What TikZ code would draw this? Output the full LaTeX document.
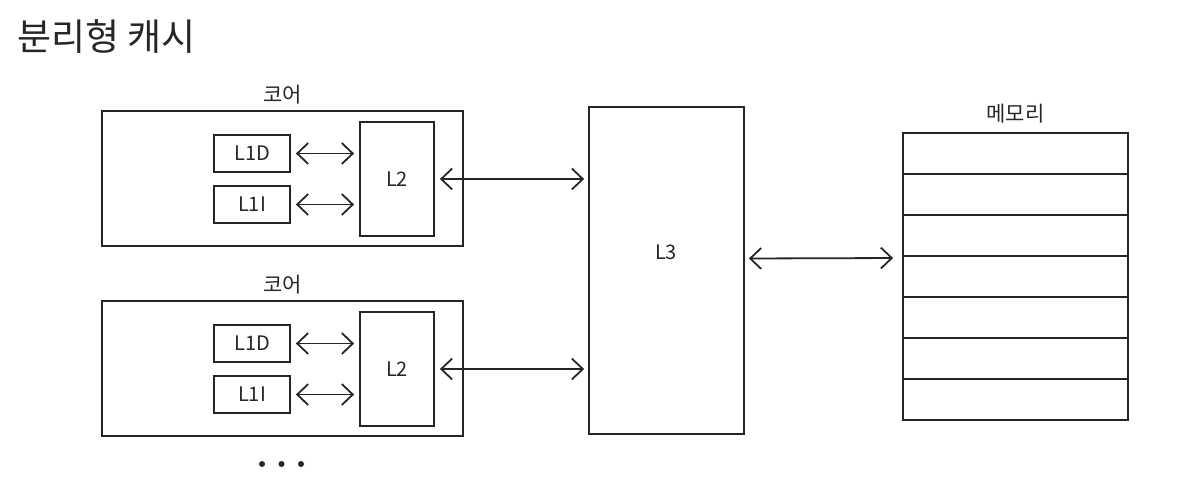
\documentclass[tikz,border=0pt]{standalone}
\usepackage{fontspec}
\setmainfont{Noto Sans CJK KR}
\usetikzlibrary{positioning,arrows.meta}
\tikzset{
	box/.style={draw,line width=1.8pt,inner sep=0pt},
	link/.style={line width=1.8pt,{Straight Barb[length=11pt,width=21pt,line width=1.8pt]}-{Straight Barb[length=11pt,width=21pt,line width=1.8pt]}},
	lbl/.style={font=\fontsize{20}{24}\selectfont},
	klbl/.style={font=\fontsize{21}{24}\selectfont},
}
\begin{document}
\begin{tikzpicture}[x=1pt,y=-1pt,color=black!85]
	\useasboundingbox (0,0) rectangle (1185,481);
	\node[anchor=west,font=\fontsize{37}{42}\selectfont] (title) at (14,37) {분리형 캐시};
	% two cores
	\foreach \c/\y in {a/0,b/190}{
		\node[box,minimum width=361pt,minimum height=135pt] (core\c) at (282.5,178.5+\y) {};
		\node[klbl,above=2pt of core\c] (corelbl\c) {코어};
		\node[box,lbl,minimum width=76pt,minimum height=37pt] (lid\c) at (252,153.5+\y) {L1D};
		\node[box,lbl,minimum width=76pt,minimum height=37pt] (lii\c) at (252,204.5+\y) {L1I};
		\node[box,lbl,minimum width=74pt,minimum height=114pt] (ltwo\c) at (397,179+\y) {L2};
		\draw[link,shorten <=5pt,shorten >=5pt] (lid\c.east) -- (lid\c.east -| ltwo\c.west);
		\draw[link,shorten <=5pt,shorten >=5pt] (lii\c.east) -- (lii\c.east -| ltwo\c.west);
	}
	\node[box,minimum width=155pt,minimum height=327pt] (lthree) at (666.5,270.5) {};
	\node[lbl] (lthreetxt) at (666,252) {L3};
	\draw[link,shorten <=5pt,shorten >=4pt] (ltwoa.east) -- (ltwoa.east -| lthree.west);
	\draw[link,shorten <=5pt,shorten >=4pt] (ltwob.east) -- (ltwob.east -| lthree.west);
	% memory
	\node[box,minimum width=225pt,minimum height=287pt] (mem) at (1015.5,276.5) {};
	\node[klbl,above=5pt of mem] (memlbl) {메모리};
	\foreach \i in {1,...,6}
		\draw[line width=1.8pt] (903,{133+41*\i}) -- (1128,{133+41*\i});
	\draw[link,shorten <=4pt,shorten >=9pt] ([yshift=12pt]lthree.east) -- ([yshift=18.5pt]mem.west);
	% more cores
	\foreach \x in {262,281.5,301}
		\fill (\x,464) circle (3pt);
\end{tikzpicture}
\end{document}
